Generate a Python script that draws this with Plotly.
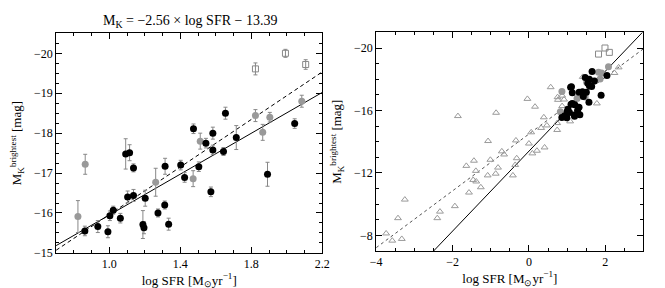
import plotly.graph_objects as go

# ---- data: black circles (log SFR, M_K, error) ----
black_x = [0.862, 0.935, 0.992, 1.003, 1.022, 1.062, 1.092, 1.114, 1.136, 1.103, 1.136, 1.202,
           1.189, 1.195, 1.274, 1.314, 1.312, 1.334, 1.402, 1.424, 1.504, 1.572, 1.544, 1.583,
           1.643, 1.715, 1.891, 1.474, 1.583, 1.654, 2.044]
black_y = [-15.55, -15.66, -15.53, -15.93, -16.07, -15.87, -17.48, -17.51, -17.13, -16.40, -16.44, -16.37,
           -15.71, -15.63, -16.00, -17.17, -16.20, -15.72, -17.20, -16.89, -17.16, -16.53, -17.75, -17.58,
           -17.54, -17.89, -16.97, -18.11, -18.00, -18.50, -18.24]
black_err = [0.12, 0.15, 0.15, 0.12, 0.10, 0.12, 0.38, 0.20, 0.10, 0.15, 0.15, 0.20,
             0.35, 0.15, 0.10, 0.20, 0.10, 0.15, 0.12, 0.12, 0.12, 0.12, 0.12, 0.12,
             0.10, 0.30, 0.30, 0.12, 0.15, 0.15, 0.12]

# gray circles
gray_x = [0.823, 0.864, 1.261, 1.472, 1.512, 1.823, 1.864, 1.904, 2.084]
gray_y = [-15.91, -17.22, -16.77, -16.86, -17.80, -18.44, -18.02, -18.40, -18.80]
gray_err = [0.40, 0.25, 0.35, 0.20, 0.20, 0.15, 0.20, 0.12, 0.15]

# open squares
sq_x = [1.823, 2.106, 1.992]
sq_y = [-19.61, -19.72, -20.00]
sq_err = [0.15, 0.12, 0.10]

# open triangles (right panel only)
tri_x = [-3.74, -3.58, -3.33, -3.43, -3.25, -2.40, -2.33, -1.94, -1.57, -1.26, -1.46, -1.38,
         -1.08, -0.87, -0.42, -1.64, -1.39, -0.81, -0.36, -1.44, -1.01, -0.32, -0.71, -0.65,
         0.00, 0.09, 0.21, 0.41, -1.07, -0.34, 0.06, 0.32, 0.47, 0.39, 0.74, 0.74,
         -1.86, -0.86, 1.08, 0.87, 0.16, -0.04, 0.75, 0.87, 0.76, 0.92, 0.57, 1.41,
         1.78, 2.24, 2.35]
tri_y = [-8.12, -7.66, -7.77, -9.10, -10.29, -9.10, -9.52, -9.87, -10.74, -11.08, -11.55, -11.45,
         -11.84, -11.95, -11.84, -12.45, -12.13, -12.34, -12.51, -12.78, -12.84, -12.94, -13.38, -13.18,
         -13.88, -13.25, -13.42, -13.63, -14.04, -14.08, -14.60, -14.88, -15.04, -15.56, -15.19, -14.75,
         -15.64, -15.85, -15.30, -16.28, -16.24, -16.74, -16.85, -16.95, -16.68, -16.70, -17.49, -18.15,
         -16.45, -18.40, -18.76]

# fit relations (slope, intercept)
fit_solid = (-2.56, -13.39)
fit_dash_left = (-2.98, -12.98)
fit_dash_right = (-1.82, -14.49)
left_fit_x = [0.7, 2.2]
right_fit_x = [-4.0, 3.0]

FONT = "Liberation Serif, Times New Roman, serif"
ERRC = "#888888"

def line_pts(xs, coef):
    return [coef[0] * x + coef[1] for x in xs]

fig = go.Figure()

# ---- left panel ----
fig.add_trace(go.Scatter(x=left_fit_x, y=line_pts(left_fit_x, fit_solid), mode="lines",
                         line=dict(color="black", width=1), xaxis="x", yaxis="y"))
fig.add_trace(go.Scatter(x=left_fit_x, y=line_pts(left_fit_x, fit_dash_left), mode="lines",
                         line=dict(color="black", width=1, dash="4px,3px"), xaxis="x", yaxis="y"))
fig.add_trace(go.Scatter(x=gray_x, y=gray_y, mode="markers",
                         error_y=dict(type="data", array=gray_err, color=ERRC, thickness=1, width=2),
                         marker=dict(color="#999999", size=7), xaxis="x", yaxis="y"))
fig.add_trace(go.Scatter(x=black_x, y=black_y, mode="markers",
                         error_y=dict(type="data", array=black_err, color=ERRC, thickness=1, width=2),
                         marker=dict(color="black", size=7), xaxis="x", yaxis="y"))
fig.add_trace(go.Scatter(x=sq_x, y=sq_y, mode="markers",
                         error_y=dict(type="data", array=sq_err, color=ERRC, thickness=1, width=2),
                         marker=dict(symbol="square-open", color="#888888", size=6, line=dict(width=1)),
                         xaxis="x", yaxis="y"))

# ---- right panel ----
fig.add_trace(go.Scatter(x=right_fit_x, y=line_pts(right_fit_x, fit_solid), mode="lines",
                         line=dict(color="black", width=1), xaxis="x2", yaxis="y2"))
fig.add_trace(go.Scatter(x=right_fit_x, y=line_pts(right_fit_x, fit_dash_right), mode="lines",
                         line=dict(color="#555555", width=1, dash="3px,3px"), xaxis="x2", yaxis="y2"))
fig.add_trace(go.Scatter(x=tri_x, y=tri_y, mode="markers",
                         marker=dict(symbol="triangle-up-open", color="#9a9a9a", size=6, line=dict(width=1)),
                         xaxis="x2", yaxis="y2"))
fig.add_trace(go.Scatter(x=gray_x, y=gray_y, mode="markers",
                         marker=dict(color="#999999", size=7), xaxis="x2", yaxis="y2"))
fig.add_trace(go.Scatter(x=black_x, y=black_y, mode="markers",
                         marker=dict(color="black", size=7), xaxis="x2", yaxis="y2"))
fig.add_trace(go.Scatter(x=sq_x, y=sq_y, mode="markers",
                         marker=dict(symbol="square-open", color="#888888", size=6, line=dict(width=1)),
                         xaxis="x2", yaxis="y2"))

W, H = 665, 288
def dom_x(a, b):
    return [a / W, b / W]
def dom_y(top, bot):
    return [1 - bot / H, 1 - top / H]

axis_common = dict(showline=True, linecolor="black", linewidth=1, mirror="allticks",
                   ticks="inside", ticklen=6, tickcolor="black", showgrid=False, zeroline=False,
                   tickfont=dict(family=FONT, size=12, color="black"))
xtitle = dict(text="log SFR [M<sub>⊙</sub>yr<sup>−1</sup>]", font=dict(family=FONT, size=13, color="black"),
              standoff=0)
ytitle = dict(text="M<sub>K</sub><sup>brightest</sup> [mag]", font=dict(family=FONT, size=13, color="black"),
              standoff=9)

fig.update_layout(
    width=W, height=H, autosize=False, showlegend=False,
    margin=dict(l=0, r=0, t=0, b=0),
    paper_bgcolor="white", plot_bgcolor="white",
    font=dict(family=FONT, size=12, color="black"),
    xaxis=dict(domain=dom_x(43, 315), range=[0.7, 2.2], tickvals=[1.0, 1.4, 1.8, 2.2],
               ticktext=["1.0", "1.4", "1.8", "2.2"], anchor="y",
               minor=dict(ticks="inside", dtick=0.1, tick0=0.7, ticklen=3, tickcolor="black"),
               title=xtitle, **axis_common),
    yaxis=dict(domain=dom_y(26, 251), range=[-15, -20.5], dtick=1, anchor="x",
               minor=dict(ticks="inside", dtick=0.25, ticklen=3, tickcolor="black"),
               title=ytitle, **axis_common),
    xaxis2=dict(domain=dom_x(370, 643), range=[-4, 3], dtick=2, tick0=0, anchor="y2",
                minor=dict(ticks="inside", dtick=0.5, ticklen=3, tickcolor="black"),
                title=xtitle, **axis_common),
    yaxis2=dict(domain=dom_y(25, 249), range=[-7, -21], dtick=4, tick0=-8, anchor="x2",
                minor=dict(ticks="inside", dtick=1, ticklen=3, tickcolor="black"),
                title=ytitle, **axis_common),
    annotations=[dict(text="M<sub>K</sub> = −2.56 × log SFR − 13.39", x=180 / W, y=1 - 14 / H,
                      xref="paper", yref="paper", showarrow=False, xanchor="center", yanchor="middle",
                      font=dict(family=FONT, size=14, color="black"))],
)

fig.write_html("out.html")
